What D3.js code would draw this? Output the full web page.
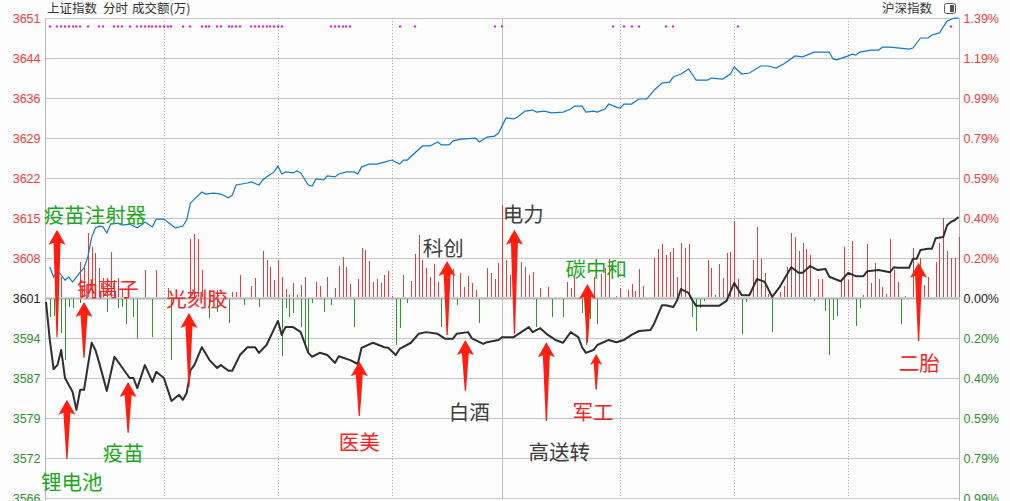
<!DOCTYPE html>
<html><head><meta charset="utf-8">
<script src="https://cdn.jsdelivr.net/npm/d3@7"></script>
<style>
html,body{margin:0;padding:0;background:#fdfdfd;}
svg{display:block;}
</style></head>
<body><svg id="c" width="1010" height="501"></svg>
<script>
// ---------- DATA ----------
const prevClose = 3601.0;
const pointStep = 7.15;      // index points per grid row
const pctStep = 0.1986;      // percent per grid row
const leftTickLabels = ["3651","3644","3636","3629","3622","3615","3608","3601","3594","3587","3579","3572","3566"];
const rightTickLabels = ["1.39%","1.19%","0.99%","0.79%","0.59%","0.40%","0.20%","0.00%","0.20%","0.40%","0.59%","0.79%","0.99%"];
const gridRows = [7,6,5,4,3,2,1,0,-1,-2,-3,-4,-5];
const halfHourMinutes = [31, 61, 91, 151, 181, 211];
const noonMinute = 120;

// 上证指数 (index points) by minute
const shMinutes = [0,1,2,3,4,5,7,8,9,10,12,13,14,16,18,22,23,24,26,28,29,31,33,35,36,37,38,39,41,43,45,46,48,49,51,53,55,56,58,61,62,63,65,67,68,69,70,72,74,76,77,80,82,83,86,89,90,92,93,96,98,100,103,105,107,108,111,112,115,116,119,120,123,125,127,128,130,132,134,136,138,140,141,142,144,145,148,150,152,154,156,159,160,162,163,165,166,167,169,170,171,173,177,179,181,183,185,187,189,191,193,196,198,199,201,203,205,206,209,211,213,215,216,219,222,223,224,227,228,229,230,232,233,234,236,237,238,239,240];
const shValues = [3600.3,3593.5,3588.3,3589.0,3591.7,3586.7,3584.2,3581.0,3584.6,3584.6,3593.0,3591.7,3589.4,3584.4,3590.5,3586.7,3586.7,3584.9,3589.0,3586.0,3587.8,3586.7,3582.6,3583.7,3582.8,3584.0,3588.1,3589.0,3592.2,3589.9,3588.5,3589.0,3588.0,3588.0,3590.8,3592.2,3592.2,3591.2,3592.6,3596.9,3594.4,3595.8,3595.8,3594.9,3593.0,3591.2,3590.5,3591.2,3590.8,3589.4,3590.6,3589.9,3589.2,3592.1,3593.0,3592.2,3592.1,3590.8,3591.9,3593.0,3594.6,3594.9,3594.6,3593.7,3593.7,3594.6,3594.9,3593.8,3592.8,3593.1,3593.5,3594.0,3594.0,3594.9,3595.8,3594.9,3595.6,3594.4,3593.5,3593.0,3594.9,3594.0,3592.2,3591.2,3591.7,3592.6,3593.5,3593.1,3593.5,3594.4,3595.1,3595.3,3596.5,3599.7,3599.7,3599.4,3600.6,3602.6,3601.9,3600.6,3599.6,3599.6,3599.6,3600.5,3603.7,3601.5,3601.5,3604.4,3603.9,3601.2,3603.0,3606.5,3605.5,3605.5,3606.7,3606.0,3606.2,3604.8,3604.0,3605.5,3604.9,3604.9,3605.8,3606.0,3605.6,3606.5,3606.4,3606.4,3608.0,3608.0,3609.6,3609.8,3609.8,3611.7,3611.9,3614.0,3614.6,3614.9,3615.5];

// 沪深指数 (percent change) by minute
const hsMinutes = [1,2,3,5,6,7,8,9,10,11,12,13,14,15,16,17,19,20,22,24,26,28,29,31,33,34,36,37,38,41,42,44,46,48,49,50,53,54,56,57,58,60,61,62,63,65,66,67,69,70,71,73,74,76,77,79,81,82,83,85,87,89,91,93,94,95,99,101,103,104,106,107,109,113,114,116,118,119,121,123,124,126,128,129,131,133,136,138,139,141,142,144,145,147,148,150,151,152,154,156,158,160,162,164,165,167,169,171,174,175,178,180,181,183,185,188,190,192,194,197,199,202,206,207,208,211,212,213,214,217,219,220,222,227,228,230,232,233,235,236,237,239,240];
const hsValues = [0.154,0.104,0.139,0.089,0.104,0.079,0.104,0.129,0.149,0.204,0.300,0.348,0.357,0.353,0.323,0.367,0.372,0.362,0.367,0.348,0.377,0.353,0.392,0.392,0.362,0.348,0.357,0.387,0.472,0.526,0.516,0.521,0.516,0.497,0.511,0.561,0.571,0.576,0.561,0.586,0.601,0.626,0.655,0.616,0.626,0.621,0.631,0.621,0.561,0.556,0.591,0.586,0.606,0.601,0.616,0.626,0.626,0.616,0.650,0.665,0.665,0.675,0.685,0.665,0.685,0.685,0.755,0.755,0.775,0.760,0.760,0.779,0.789,0.794,0.775,0.799,0.804,0.819,0.894,0.889,0.899,0.928,0.933,0.923,0.928,0.919,0.923,0.938,0.953,0.953,0.923,0.928,0.923,0.938,0.963,0.948,0.943,0.963,0.963,0.988,0.988,1.033,1.067,1.072,1.097,1.112,1.137,1.082,1.082,1.092,1.087,1.112,1.147,1.112,1.117,1.152,1.152,1.142,1.162,1.202,1.197,1.221,1.221,1.187,1.182,1.202,1.211,1.206,1.221,1.231,1.231,1.246,1.246,1.236,1.241,1.291,1.291,1.306,1.316,1.346,1.375,1.390,1.390];

// 成交额 bars (buy side up, sell side down)
const upMinutes = [4,9,10,11,12,13,14,15,16,17,18,19,20,26,29,32,38,39,40,41,43,45,49,50,51,53,54,55,57,58,59,60,61,62,63,64,65,66,67,68,71,72,74,76,77,78,79,80,82,83,84,85,86,87,88,89,90,91,94,96,97,98,99,100,101,102,103,107,109,110,111,112,113,115,116,117,118,119,120,121,122,125,126,127,128,130,132,135,137,138,139,144,146,147,148,150,151,153,154,155,156,157,160,161,162,163,164,165,166,167,168,169,174,175,176,177,178,179,180,181,182,186,187,188,189,190,193,194,195,196,197,198,199,200,201,203,204,209,210,211,212,215,216,217,218,219,220,221,222,223,224,226,228,230,231,232,234,235,236,237,238,239,240];
const upValues = [21,36,30,65,51,45,30,20,20,46,18,20,8,28,28,10,59,64,59,28,8,8,6,6,23,1,12,20,47,38,31,18,38,21,9,3,15,3,13,21,16,12,21,10,32,41,31,14,19,50,48,37,16,19,15,23,27,2,23,17,44,63,38,30,21,34,16,29,25,11,22,15,8,1,30,25,19,35,93,38,23,36,31,23,26,10,11,1,16,10,21,21,24,30,39,2,10,8,14,7,29,12,40,49,54,43,46,50,21,55,50,54,38,30,3,34,20,45,46,77,19,38,71,39,25,4,6,12,31,65,61,47,55,49,43,19,19,18,51,18,57,3,54,15,35,19,11,4,59,28,16,2,50,40,13,21,36,55,80,47,40,40,61];
const downMinutes = [1,2,4,5,6,7,9,16,19,20,21,23,24,28,33,43,45,48,52,56,62,63,64,65,67,68,69,70,73,75,81,92,93,95,104,108,114,129,133,136,141,142,143,145,170,171,172,173,183,184,191,202,205,206,207,208,213,214,225];
const downValues = [19,18,35,62,9,10,5,14,10,9,26,19,41,39,62,20,14,25,7,9,58,10,19,15,29,50,54,5,14,7,29,47,30,5,29,7,25,29,19,19,15,47,21,26,19,33,10,3,36,4,34,3,13,57,22,18,28,10,26];

// signal dots along the top
const signalMinutes = [1,3,4,5,6,7,8,9,11,14,15,18,19,20,22,24,25,26,27,28,29,30,31,32,33,36,38,41,42,43,45,46,48,49,50,51,54,55,56,57,58,59,60,61,62,75,76,77,78,79,80,93,97,118,120,149,152,154,156,163,165,182,238];

// annotations: label, colour key, text centre (minute, points), arrow (minute, tip points, tail points)
const annLabels = ["疫苗注射器","钠离子","光刻胶","科创","电力","碳中和","锂电池","疫苗","医美","白酒","高送转","军工","二胎"];
const annKinds  = ["g","r","r","k","k","g","g","g","r","k","k","r","r"];
const annTextMin = [12.9,16.3,39.7,104.5,125.5,144.7,6.8,20.3,82.4,111.3,135.0,143.9,229.7];
const annTextVal = [3616.0,3602.8,3601.0,3610.1,3616.2,3606.4,3568.3,3573.5,3575.4,3580.8,3573.7,3580.8,3589.6];
const arrowMin  = [2.9,10.0,37.6,105.5,123.2,142.4,5.5,21.6,82.4,110.3,131.6,144.7,229.5];
const arrowTip  = [3613.2,3600.3,3598.3,3607.6,3613.2,3603.5,3582.8,3586.0,3589.7,3593.5,3593.1,3591.0,3607.3];
const arrowTail = [3594.0,3590.3,3585.1,3594.4,3594.6,3593.0,3572.2,3576.9,3579.9,3584.4,3579.0,3584.6,3593.3];

// ---------- DRAW ----------
const svg = d3.select("#c");
const L = 45.5, R = 959.5, T = 18, B = 498;
const x = d3.scaleLinear().domain([0, 240]).range([46, 958.5]);
const y = d3.scaleLinear().domain([prevClose - 5*pointStep, prevClose + 7*pointStep]).range([B, T]);
const yp = d3.scaleLinear().domain([-5*pctStep, 7*pctStep]).range([B, T]);
const yBase = y(prevClose);
const barY = d3.scaleLinear().domain([-100, 100]).range([yBase + 100, yBase - 100]);

const RED = "#f53b3b", GREEN = "#2f8f2f", DARK = "#222";
const sans = "'Liberation Sans', Arial, sans-serif";
const cjk = "'Noto Sans CJK SC', sans-serif";

// grid
const g = svg.append("g");
g.selectAll("line.h").data(gridRows).enter().append("line")
  .attr("x1", L).attr("x2", R)
  .attr("y1", d => Math.round(y(prevClose + d*pointStep)) + 0.5)
  .attr("y2", d => Math.round(y(prevClose + d*pointStep)) + 0.5)
  .attr("stroke", d => d === 0 ? "#b4b4b4" : "#c4c4c4")
  .attr("stroke-width", d => d === 0 ? 2 : 1);
g.selectAll("line.v").data(halfHourMinutes).enter().append("line")
  .attr("x1", d => Math.round(x(d)) + 0.5).attr("x2", d => Math.round(x(d)) + 0.5)
  .attr("y1", T).attr("y2", B)
  .attr("stroke", "#b0b0b0").attr("stroke-dasharray", "1,2");
g.append("line").attr("x1", Math.round(x(noonMinute)) + 0.5).attr("x2", Math.round(x(noonMinute)) + 0.5)
  .attr("y1", T).attr("y2", B).attr("stroke", "#c0c0c0");
g.append("line").attr("x1", L).attr("x2", L).attr("y1", T).attr("y2", 501).attr("stroke", "#b8b8b8");
g.append("line").attr("x1", R).attr("x2", R).attr("y1", T).attr("y2", 501).attr("stroke", "#b8b8b8");

// axis labels
const leftAxis = d3.axisLeft(y).tickValues(gridRows.map(d => prevClose + d*pointStep))
  .tickFormat((d, i) => leftTickLabels[i]).tickSize(0).tickPadding(5);
const la = svg.append("g").attr("transform", `translate(${L},0)`).call(leftAxis);
la.select(".domain").remove();
la.selectAll("text").attr("font-family", sans).attr("font-size", 12.5)
  .attr("fill", (d, i) => gridRows[i] > 0 ? RED : gridRows[i] < 0 ? GREEN : DARK);
const rightAxis = d3.axisRight(yp).tickValues(gridRows.map(d => d*pctStep))
  .tickFormat((d, i) => rightTickLabels[i]).tickSize(0).tickPadding(4);
const ra = svg.append("g").attr("transform", `translate(${R},0)`).call(rightAxis);
ra.select(".domain").remove();
ra.selectAll("text").attr("font-family", sans).attr("font-size", 12.5)
  .attr("fill", (d, i) => gridRows[i] > 0 ? RED : gridRows[i] < 0 ? GREEN : DARK);

// bars
svg.append("g").selectAll("line").data(upMinutes).enter().append("line")
  .attr("x1", d => Math.round(x(d)) + 0.5).attr("x2", d => Math.round(x(d)) + 0.5)
  .attr("y1", yBase - 1).attr("y2", (d, i) => barY(upValues[i]))
  .attr("stroke", "#f23a3a").attr("stroke-width", 1);
svg.append("g").selectAll("line").data(downMinutes).enter().append("line")
  .attr("x1", d => Math.round(x(d)) + 0.5).attr("x2", d => Math.round(x(d)) + 0.5)
  .attr("y1", yBase + 1).attr("y2", (d, i) => barY(-downValues[i]))
  .attr("stroke", "#2a9a2a").attr("stroke-width", 1);

// lines
const hsLine = d3.line().x((d, i) => x(hsMinutes[i])).y(d => yp(d));
svg.append("path").datum(hsValues).attr("d", hsLine)
  .attr("fill", "none").attr("stroke", "#0b78d4").attr("stroke-width", 1.2);
const shLine = d3.line().x((d, i) => x(shMinutes[i])).y(d => y(d));
svg.append("path").datum(shValues).attr("d", shLine)
  .attr("fill", "none").attr("stroke", "#2e2e2e").attr("stroke-width", 2).attr("stroke-linejoin", "round");

// signal dots
svg.append("g").selectAll("rect").data(signalMinutes).enter().append("rect")
  .attr("x", d => Math.round(x(d)) - 1).attr("y", T + 7.5).attr("width", 2).attr("height", 2)
  .attr("fill", "#ff00ff");

// arrows
function arrowPath(cx, yt, yb) {
  const len = yb - yt;
  const hw = len < 40 ? 6 : 8.5, hh = len < 40 ? 11 : 15, sw = len < 40 ? 2.5 : 3.5;
  return `M${cx},${yt} L${cx + hw},${yt + hh} L${cx + sw},${yt + hh - 2} L${cx + 0.6},${yb} L${cx - 0.6},${yb} L${cx - sw},${yt + hh - 2} L${cx - hw},${yt + hh} Z`;
}
svg.append("g").selectAll("path").data(arrowMin).enter().append("path")
  .attr("d", (d, i) => arrowPath(x(d), y(arrowTip[i]), y(arrowTail[i])))
  .attr("fill", "#ff1e10");

// annotation text
const kindColor = {g: "#1ca81c", r: "#ff2020", k: "#3e3e3e"};
svg.append("g").selectAll("text").data(annLabels).enter().append("text")
  .attr("x", (d, i) => x(annTextMin[i])).attr("y", (d, i) => y(annTextVal[i]))
  .attr("text-anchor", "middle").attr("dominant-baseline", "central")
  .attr("font-family", cjk).attr("font-size", 20.5)
  .attr("fill", (d, i) => kindColor[annKinds[i]]).text(d => d);

// header
const hdr = svg.append("g").attr("font-family", cjk).attr("font-size", 12.5).attr("fill", "#333");
hdr.append("text").attr("x", 47).attr("y", 13).text("上证指数");
hdr.append("text").attr("x", 103).attr("y", 13).text("分时");
hdr.append("text").attr("x", 132).attr("y", 13).text("成交额(万)");
hdr.append("text").attr("x", 932).attr("y", 13).attr("text-anchor", "end").text("沪深指数");
svg.append("rect").attr("x", 944.5).attr("y", 3.5).attr("width", 11).attr("height", 10).attr("rx", 2)
  .attr("fill", "#fff").attr("stroke", "#555");
svg.append("rect").attr("x", 950).attr("y", 5).attr("width", 4).attr("height", 7).attr("fill", "#555");
</script>
</body></html>
